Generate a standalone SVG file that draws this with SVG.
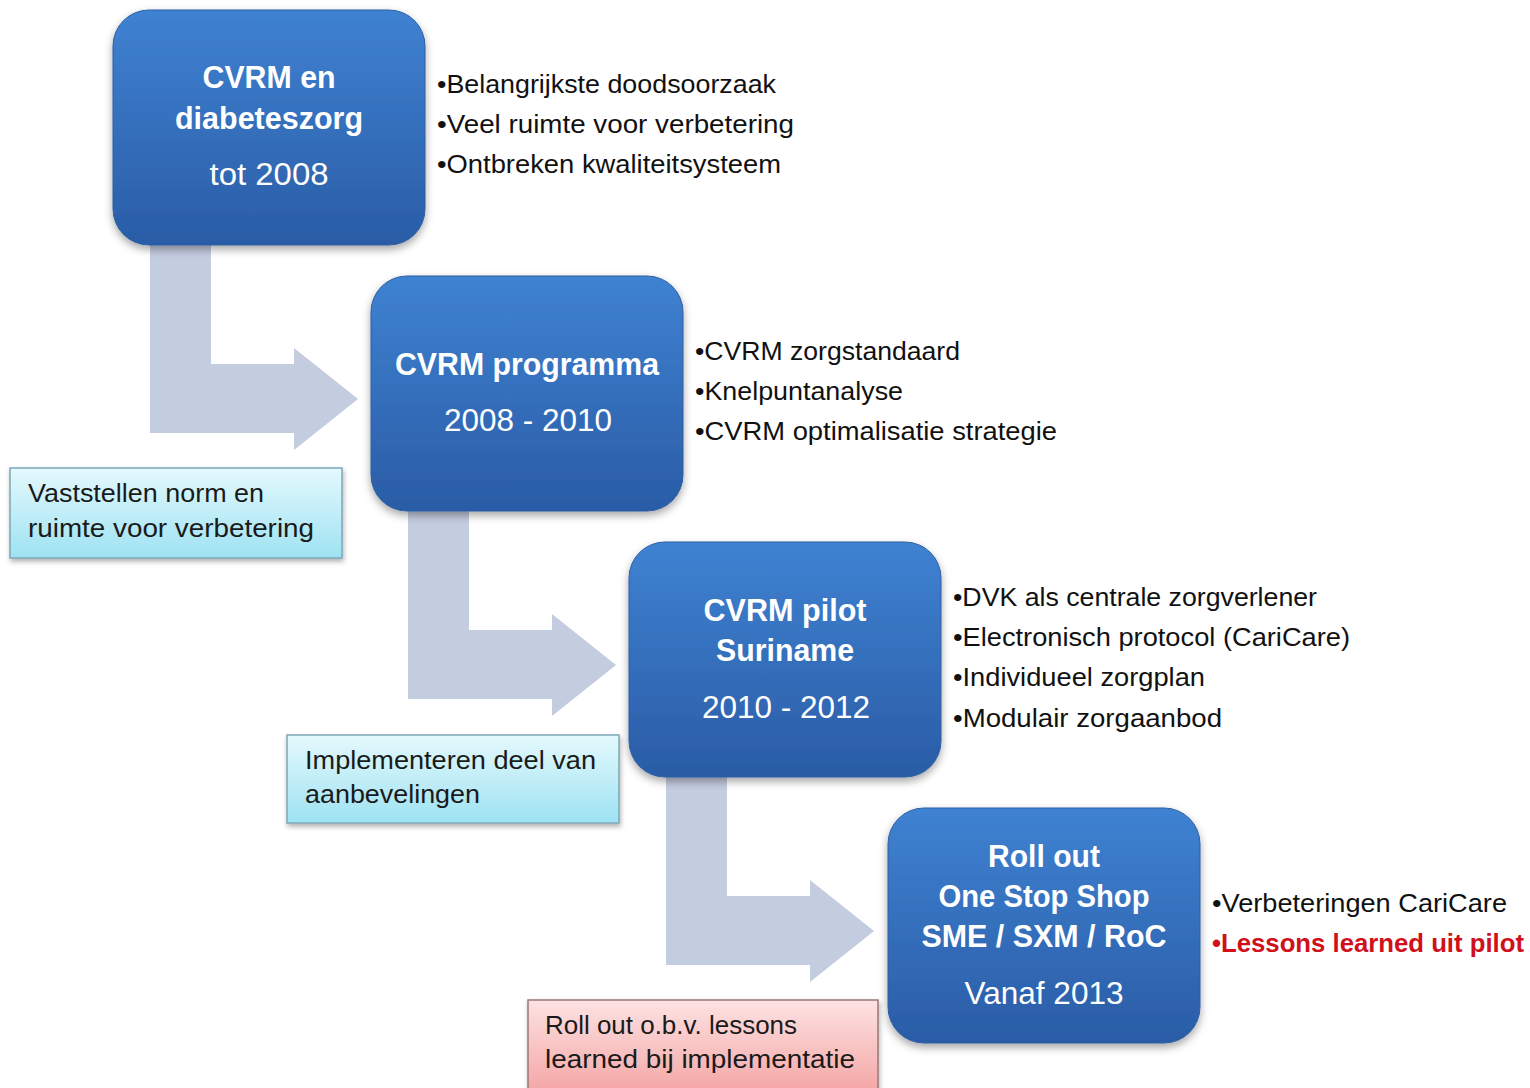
<svg xmlns="http://www.w3.org/2000/svg" width="1530" height="1088" viewBox="0 0 1530 1088">
<defs>
<linearGradient id="gBlue" x1="0" y1="0" x2="0" y2="1">
<stop offset="0" stop-color="#3f82d2"/>
<stop offset="1" stop-color="#2a5ca6"/>
</linearGradient>
<linearGradient id="gCyan" x1="0" y1="0" x2="0" y2="1">
<stop offset="0" stop-color="#e4f9fd"/>
<stop offset="1" stop-color="#9ee2f2"/>
</linearGradient>
<linearGradient id="gPink" x1="0" y1="0" x2="0" y2="1">
<stop offset="0" stop-color="#fde2e2"/>
<stop offset="1" stop-color="#f4a4a4"/>
</linearGradient>
<filter id="sh" x="-10%" y="-10%" width="125%" height="130%">
<feDropShadow dx="0" dy="4" stdDeviation="4" flood-color="#000" flood-opacity="0.35"/>
</filter>
<filter id="sh2" x="-10%" y="-10%" width="120%" height="140%">
<feDropShadow dx="1" dy="3" stdDeviation="2.5" flood-color="#000" flood-opacity="0.3"/>
</filter>
</defs>
<style>
.node rect{fill:url(#gBlue);stroke:#2d5fa3;stroke-width:1;filter:url(#sh)}
.nt{font-family:"Liberation Sans",Arial,sans-serif;fill:#fff;text-anchor:middle;font-size:32px}
.b{font-weight:bold}
.bul{font-family:"Liberation Sans",Arial,sans-serif;fill:#111;font-size:25px}
.red{fill:#d0101a;font-weight:bold}
.lab{font-family:"Liberation Sans",Arial,sans-serif;fill:#1a1a1a;font-size:25px}
.arrow{fill:#c4cce0}
.cyan{fill:url(#gCyan);stroke:#7ea7b6;stroke-width:1.5;filter:url(#sh2)}
.pink{fill:url(#gPink);stroke:#9a7777;stroke-width:1.5;filter:url(#sh2)}
</style>
<rect width="1530" height="1088" fill="#fff"/>
<g id="connectors">
<path class="arrow" d="M150,245 H211 V364 H294 V348 L358,399 L294,450 V433 H150 Z"/>
<path class="arrow" d="M408,511 H469 V630 H552 V614 L616,665 L552,716 V699 H408 Z"/>
<path class="arrow" d="M666,777 H727 V896 H810 V880 L874,931 L810,982 V965 H666 Z"/>
</g>
<g id="node1" class="node">
<rect x="113" y="10" width="312" height="235" rx="36"/>
<text class="nt b" x="269" y="88" textLength="133" lengthAdjust="spacingAndGlyphs">CVRM en</text>
<text class="nt b" x="269" y="129" textLength="188" lengthAdjust="spacingAndGlyphs">diabeteszorg</text>
<text class="nt" x="269" y="185" textLength="119" lengthAdjust="spacingAndGlyphs">tot 2008</text>
</g>
<g id="node2" class="node">
<rect x="371" y="276" width="312" height="235" rx="36"/>
<text class="nt b" x="527" y="375" textLength="264" lengthAdjust="spacingAndGlyphs">CVRM programma</text>
<text class="nt" x="528" y="431" textLength="168" lengthAdjust="spacingAndGlyphs">2008 - 2010</text>
</g>
<g id="node3" class="node">
<rect x="629" y="542" width="312" height="235" rx="36"/>
<text class="nt b" x="785" y="621" textLength="163" lengthAdjust="spacingAndGlyphs">CVRM pilot</text>
<text class="nt b" x="785" y="661" textLength="138" lengthAdjust="spacingAndGlyphs">Suriname</text>
<text class="nt" x="786" y="718" textLength="168" lengthAdjust="spacingAndGlyphs">2010 - 2012</text>
</g>
<g id="node4" class="node">
<rect x="888" y="808" width="312" height="235" rx="36"/>
<text class="nt b" x="1044" y="867" textLength="112" lengthAdjust="spacingAndGlyphs">Roll out</text>
<text class="nt b" x="1044" y="907" textLength="211" lengthAdjust="spacingAndGlyphs">One Stop Shop</text>
<text class="nt b" x="1044" y="947" textLength="245" lengthAdjust="spacingAndGlyphs">SME / SXM / RoC</text>
<text class="nt" x="1044" y="1004" textLength="159" lengthAdjust="spacingAndGlyphs">Vanaf 2013</text>
</g>
<g id="bullets1">
<text class="bul" x="437" y="93" textLength="339" lengthAdjust="spacingAndGlyphs">•Belangrijkste doodsoorzaak</text>
<text class="bul" x="437" y="133" textLength="357" lengthAdjust="spacingAndGlyphs">•Veel ruimte voor verbetering</text>
<text class="bul" x="437" y="173" textLength="344" lengthAdjust="spacingAndGlyphs">•Ontbreken kwaliteitsysteem</text>
</g>
<g id="bullets2">
<text class="bul" x="695" y="360" textLength="265" lengthAdjust="spacingAndGlyphs">•CVRM zorgstandaard</text>
<text class="bul" x="695" y="400" textLength="208" lengthAdjust="spacingAndGlyphs">•Knelpuntanalyse</text>
<text class="bul" x="695" y="440" textLength="362" lengthAdjust="spacingAndGlyphs">•CVRM optimalisatie strategie</text>
</g>
<g id="bullets3">
<text class="bul" x="953" y="606" textLength="364" lengthAdjust="spacingAndGlyphs">•DVK als centrale zorgverlener</text>
<text class="bul" x="953" y="646" textLength="397" lengthAdjust="spacingAndGlyphs">•Electronisch protocol (CariCare)</text>
<text class="bul" x="953" y="686" textLength="252" lengthAdjust="spacingAndGlyphs">•Individueel zorgplan</text>
<text class="bul" x="953" y="727" textLength="269" lengthAdjust="spacingAndGlyphs">•Modulair zorgaanbod</text>
</g>
<g id="bullets4">
<text class="bul" x="1212" y="912" textLength="295" lengthAdjust="spacingAndGlyphs">•Verbeteringen CariCare</text>
<text class="bul red" x="1212" y="952" textLength="312" lengthAdjust="spacingAndGlyphs">•Lessons learned uit pilot</text>
</g>
<g id="labelA">
<rect class="cyan" x="10" y="468" width="332" height="90"/>
<text class="lab" x="28" y="502" textLength="236" lengthAdjust="spacingAndGlyphs">Vaststellen norm  en</text>
<text class="lab" x="28" y="537" textLength="286" lengthAdjust="spacingAndGlyphs">ruimte voor verbetering</text>
</g>
<g id="labelB">
<rect class="cyan" x="287" y="735" width="332" height="88"/>
<text class="lab" x="305" y="769" textLength="291" lengthAdjust="spacingAndGlyphs">Implementeren deel van</text>
<text class="lab" x="305" y="803" textLength="175" lengthAdjust="spacingAndGlyphs">aanbevelingen</text>
</g>
<g id="labelC">
<rect class="pink" x="528" y="1000" width="350" height="95"/>
<text class="lab" x="545" y="1034" textLength="252" lengthAdjust="spacingAndGlyphs">Roll out o.b.v. lessons</text>
<text class="lab" x="545" y="1068" textLength="310" lengthAdjust="spacingAndGlyphs">learned bij implementatie</text>
</g>
</svg>
